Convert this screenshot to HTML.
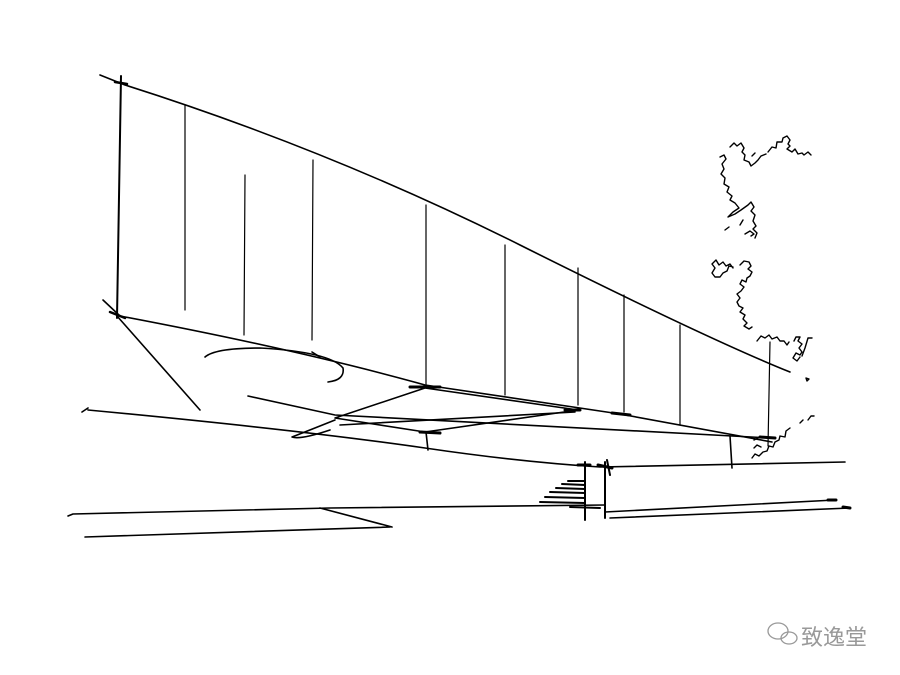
<!DOCTYPE html>
<html><head><meta charset="utf-8"><style>
html,body{margin:0;padding:0;background:#fff;width:900px;height:675px;overflow:hidden}
svg{position:absolute;left:0;top:0}
.w{position:absolute;left:801px;top:620px;font:22px "Liberation Sans","Noto Sans CJK SC",sans-serif;color:#999}
</style></head><body>
<svg width="900" height="675" viewBox="0 0 900 675" fill="none" stroke="#000" stroke-width="1.6" stroke-linecap="round" stroke-linejoin="round">
<path d="M100 75 L125 85 Q330 150 520 245 T790 372"/>
<path d="M121 76 L117 318" stroke-width="2"/>
<path d="M115 82 L127 84 M110 312 L125 318" stroke-width="2.5"/>
<path d="M103 300 L120 316 Q300 350 425 385 L620 414 L772 442"/>
<path d="M185 105 L185 310 M245 175 L244 335 M313 160 L312 340 M426 205 L426 385 M505 245 L505 395 M578 268 L578 405 M624 295 L624 412 M680 325 L680 425 M770 342 L768 446" stroke-width="1.2"/>
<path d="M117 316 L200 410"/>
<path d="M205 357 Q215 348 260 348 Q330 352 343 368 Q345 380 328 382"/>
<path d="M312 352 L320 357"/>
<path d="M335 418 L425 388 L578 410 L425 432 Z"/>
<path d="M410 387 L440 387 M420 432 L440 433 M565 410 L580 410 M612 413 L630 415 M760 437 L775 438" stroke-width="3"/>
<path d="M248 396 L335 415 L770 438"/>
<path d="M340 425 L575 412"/>
<path d="M335 420 Q305 432 292 437 Q300 440 330 430"/>
<path d="M426 432 L428 450"/>
<path d="M730 436 L732 468"/>
<path d="M82 412 L88 408 M88 410 Q300 430 425 448 Q520 462 600 467 L845 462"/>
<path d="M585 462 L585 520 M605 462 L605 518 M607 460 L610 475" stroke-width="2"/>
<path d="M578 465 L590 465 M598 465 L612 468" stroke-width="3"/>
<path d="M540 502 L585 503 M545 497 L585 498 M550 492 L585 493 M556 488 L585 489 M562 484 L585 485 M568 481 L585 481 M570 507 L600 508" stroke-width="2"/>
<path d="M68 516 L73 514 L330 508 L605 505"/>
<path d="M85 537 L390 527 M320 508 L392 527"/>
<path d="M605 512 L835 500 M610 518 L850 508"/>
<path d="M828 500 L836 500 M843 507 L850 508" stroke-width="3"/>
<path stroke-width="1.4" d="M730 147 l4 -4 3 3 4 -3 3 5 -2 4 3 3 -1 5 5 2 2 4 4 -3 3 -3 3 -4 5 -2 M752 156 l3 -3 M768 152 l4 -5 4 1 1 -6 5 0 1 -4 4 -2 3 4 -2 4 2 2 -3 3 5 3 3 -3 3 5 4 -1 2 2 4 -3 3 3 M720 157 l4 -2 2 4 -4 5 2 5 -3 5 4 4 -1 6 5 3 -2 5 5 4 -2 4 5 3 4 5 -6 4 -5 5 7 -3 6 -4 7 -5 3 -3 3 5 -3 4 4 4 -2 6 3 5 -3 3 4 4 -2 5 M740 225 l3 -5 M745 234 l5 -3 4 3 -3 2 M725 230 l4 -3 M733 268 l-3 -4 -4 2 -3 -4 -4 3 -3 -5 -4 4 3 4 -3 5 3 4 5 0 3 -4 4 -2 2 -5 4 1 M740 265 l4 -4 5 1 2 4 -3 3 4 3 -2 4 -3 2 -1 4 -4 -2 -2 4 4 3 -3 4 -4 3 3 4 -3 4 2 4 4 2 -3 4 5 3 -2 4 4 4 -3 3 5 3 3 -2 M757 341 l4 -5 4 2 4 -3 3 4 5 -2 3 4 4 0 3 4 2 -3 M794 341 l2 -4 4 0 -2 4 4 3 -3 4 3 4 -2 3 -4 -2 -3 5 4 3 3 -4 M802 356 l3 -8 3 -10 4 0 M806 378 l3 1 -2 2 Z M752 458 l3 -4 4 2 4 -4 4 -1 2 -5 4 1 2 -5 4 -2 1 -4 5 1 1 -6 4 -3 M800 423 l3 -3 M808 420 l3 -4 3 0 M754 448 l3 -3 4 2 M754 440 l4 -2"/>
</svg>
<div class="w">致逸堂</div>
<svg width="900" height="675" style="position:absolute;left:0;top:0" fill="none" stroke="#999" stroke-width="1.3">
<ellipse cx="778" cy="631" rx="10" ry="8"/><ellipse cx="789" cy="638" rx="8" ry="6"/>
</svg>
</body></html>
